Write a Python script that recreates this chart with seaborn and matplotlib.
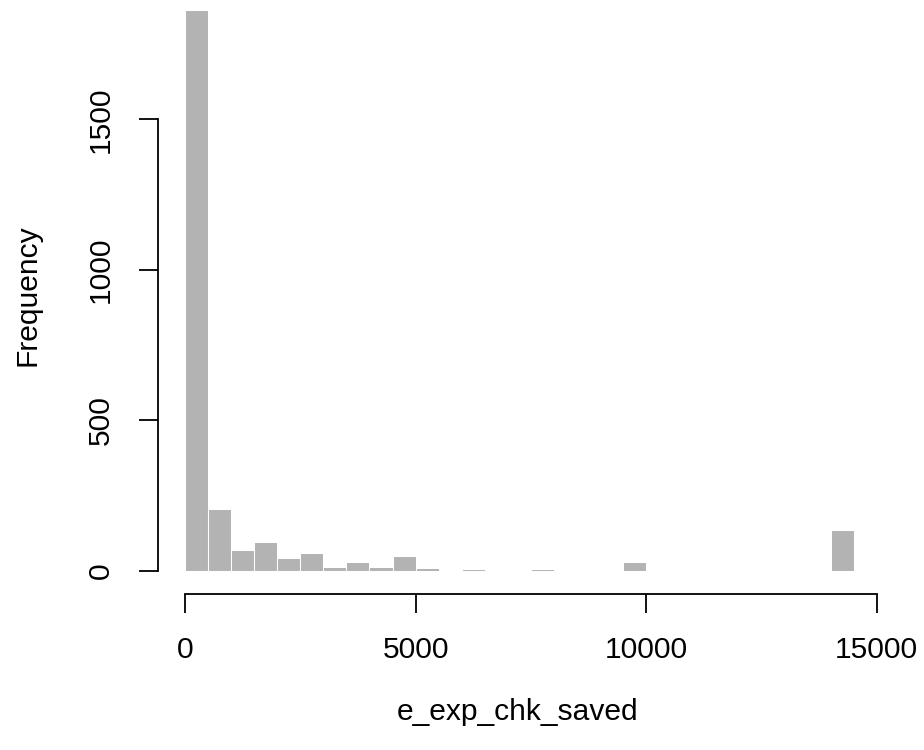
import numpy as np
import pandas as pd
import matplotlib
matplotlib.use("Agg")
import matplotlib.pyplot as plt
import seaborn as sns

# Histogram data (bin width 500, from 0 to 14500)
bin_edges = list(range(0, 15000, 500))
counts = [1862, 205, 70, 95, 43, 59, 15, 29, 15, 51,
          11, 4, 8, 5, 0, 7, 3, 4, 0, 31,
          0, 4, 0, 2, 0, 0, 0, 2, 137]
x_ticks = [0, 5000, 10000, 15000]
y_ticks = [0, 500, 1000, 1500]
x_label = "e_exp_chk_saved"
y_label = "Frequency"

centers = [e + 250 for e in bin_edges[:-1]]
df = pd.DataFrame({"value": centers, "count": counts})

sns.set_style("white")
plt.rcParams["font.family"] = ["Liberation Sans", "DejaVu Sans"]
plt.rcParams["text.color"] = "black"

W, H = 924, 750
fig = plt.figure(figsize=(W / 100, H / 100), dpi=100)
left_px, right_px = 158.3, 880.4
bottom_px, top_px = 593.5, 0.0
ax = fig.add_axes([left_px / W, 1 - bottom_px / H,
                   (right_px - left_px) / W, (bottom_px - top_px) / H])

sns.histplot(data=df, x="value", weights="count", bins=bin_edges,
             color="#B3B3B3", edgecolor="white", linewidth=0.75,
             alpha=1, ax=ax)

ax.set_xlim(-580, 15080)
ax.set_ylim(-74.6, 1896)

for s in ["top", "right"]:
    ax.spines[s].set_visible(False)
ax.spines["left"].set_bounds(0, 1500)
ax.spines["bottom"].set_bounds(0, 15000)
for s in ["left", "bottom"]:
    ax.spines[s].set_color("black")
    ax.spines[s].set_linewidth(1.3)

ax.set_xticks(x_ticks)
ax.set_xticklabels([str(t) for t in x_ticks])
ax.set_yticks(y_ticks)
ax.set_yticklabels([str(t) for t in y_ticks], rotation=90, va="center")
ax.tick_params(axis="both", which="major", bottom=True, left=True,
               direction="out", length=13.5, width=1.3,
               color="black", labelsize=21.6, labelcolor="black")
ax.tick_params(axis="x", pad=17)
ax.tick_params(axis="y", pad=18)
ax.set_xlabel("")
ax.set_ylabel("")

fig.text(518 / W, 1 - 712 / H, x_label, ha="center", va="center",
         fontsize=21.6, color="black")
fig.text(27 / W, 1 - 295 / H, y_label, ha="center", va="center",
         rotation=90, fontsize=21.6, color="black")

fig.savefig("out.png", dpi=100)
